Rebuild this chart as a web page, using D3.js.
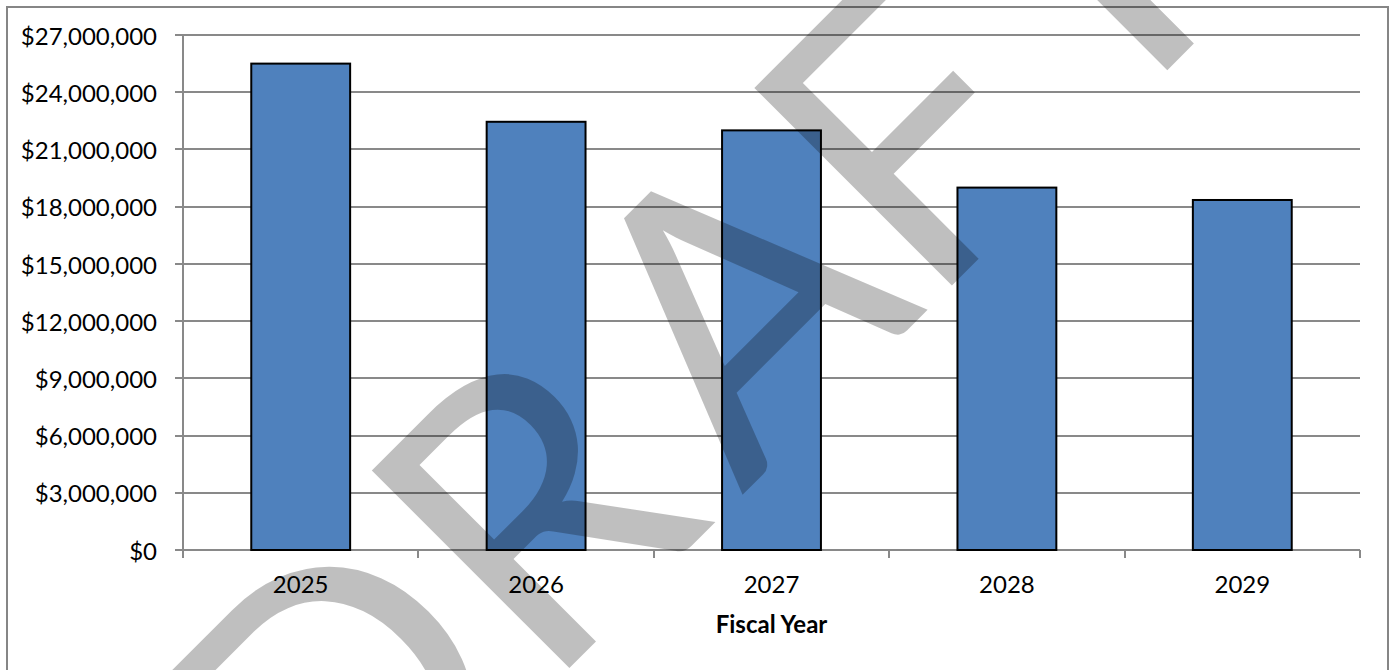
<!DOCTYPE html>
<html>
<head>
<meta charset="utf-8">
<script src="https://cdn.jsdelivr.net/npm/d3@7"></script>
<style>
  html, body { margin: 0; padding: 0; background: #fff; }
  svg { display: block; }
</style>
</head>
<body>
<svg id="chart"></svg>
<script>
// data
var years = ["2025", "2026", "2027", "2028", "2029"];
var amounts = [25500000, 22450000, 22000000, 19000000, 18350000];
var yTicks = [0, 3000000, 6000000, 9000000, 12000000, 15000000, 18000000, 21000000, 24000000, 27000000];
var xTitle = "Fiscal Year";
var watermark = "DRAFT";

(function() {
  var width = 1395, height = 670;
  var plotL = 183, plotR = 1360, plotT = 35, plotB = 550;
  var font = "Lato, 'Open Sans', sans-serif";
  var gridColor = "#898989";
  var labelSize = 24;

  var svg = d3.select("#chart")
      .attr("width", width)
      .attr("height", height);

  // outer chart border
  svg.append("rect")
      .attr("x", 7).attr("y", 7)
      .attr("width", 1381).attr("height", 680)
      .attr("fill", "#fff")
      .attr("stroke", "#868686")
      .attr("stroke-width", 2);

  var y = d3.scaleLinear().domain([0, 27000000]).range([plotB, plotT]);
  var x = d3.scaleBand().domain(years).range([plotL, plotR])
      .paddingInner(0.58).paddingOuter(0.29);

  // horizontal gridlines (with the little tick stub left of the axis)
  svg.append("g").selectAll("line")
      .data(yTicks)
      .enter().append("line")
      .attr("x1", plotL - 8).attr("x2", plotR)
      .attr("y1", function(d) { return Math.round(y(d)); })
      .attr("y2", function(d) { return Math.round(y(d)); })
      .attr("stroke", gridColor)
      .attr("stroke-width", 2);

  // y axis labels
  var fmt = d3.format("$,");
  var yAxis = svg.append("g")
      .attr("transform", "translate(" + plotL + ",0)")
      .call(d3.axisLeft(y).tickValues(yTicks).tickFormat(fmt)
          .tickSizeInner(8).tickSizeOuter(0).tickPadding(18));
  yAxis.select(".domain").remove();
  yAxis.selectAll(".tick line").remove();
  yAxis.selectAll("text")
      .attr("font-family", font)
      .attr("font-size", labelSize + "px")
      .attr("fill", "#000")
      .attr("dy", "0.38em");

  // y axis line
  svg.append("line")
      .attr("x1", plotL).attr("x2", plotL)
      .attr("y1", plotT).attr("y2", plotB + 8)
      .attr("stroke", gridColor).attr("stroke-width", 2);

  // x tick marks at category boundaries
  var bounds = years.map(function(d) { return x(d) - x.step() * x.paddingOuter(); });
  bounds.push(plotR);
  svg.append("g").selectAll("line")
      .data(bounds)
      .enter().append("line")
      .attr("x1", function(d) { return Math.round(d); })
      .attr("x2", function(d) { return Math.round(d); })
      .attr("y1", plotB).attr("y2", plotB + 8)
      .attr("stroke", gridColor).attr("stroke-width", 2);

  // bars
  svg.append("g").selectAll("rect")
      .data(amounts)
      .enter().append("rect")
      .attr("x", function(d, i) { return x(years[i]); })
      .attr("y", function(d) { return y(d); })
      .attr("width", x.bandwidth())
      .attr("height", function(d) { return plotB - y(d); })
      .attr("fill", "#4f81bd")
      .attr("stroke", "#000")
      .attr("stroke-width", 2);

  // x axis labels
  var xAxis = svg.append("g")
      .attr("transform", "translate(0," + plotB + ")")
      .call(d3.axisBottom(x).tickSize(0).tickPadding(26));
  xAxis.select(".domain").remove();
  xAxis.selectAll("text")
      .attr("font-family", font)
      .attr("font-size", labelSize + "px")
      .attr("fill", "#000");

  // x axis title
  svg.append("text")
      .attr("x", (plotL + plotR) / 2)
      .attr("y", 633)
      .attr("text-anchor", "middle")
      .attr("font-family", font)
      .attr("font-size", labelSize + "px")
      .attr("font-weight", "bold")
      .attr("fill", "#000")
      .text(xTitle);

  // watermark: letters placed along a -45deg baseline, in the rotated frame
  // (local x runs along the baseline, local y across it)
  var wmSize = 390;
  var ctx = document.createElement("canvas").getContext("2d");
  ctx.font = wmSize + "px Lato";
  function ink(ch) { return ctx.measureText(ch); }
  // where each letter's ink sits along the baseline
  var wmX = [
    -127 - ink("D").actualBoundingBoxRight,        // D right edge
    -75 + ink("R").actualBoundingBoxLeft,          // R left edge
    174 + ink("A").actualBoundingBoxLeft,          // A left edge
    466 + ink("F").actualBoundingBoxLeft,          // F left edge
    792 - (ink("T").actualBoundingBoxRight - ink("T").actualBoundingBoxLeft) / 2 // T middle
  ];
  svg.append("text")
      .attr("transform", "rotate(-45)")
      .attr("x", wmX.join(" "))
      .attr("y", 875)
      .attr("font-family", font)
      .attr("font-size", wmSize + "px")
      .attr("fill", "#000")
      .attr("fill-opacity", 0.25)
      .text(watermark);
})();
</script>
</body>
</html>
